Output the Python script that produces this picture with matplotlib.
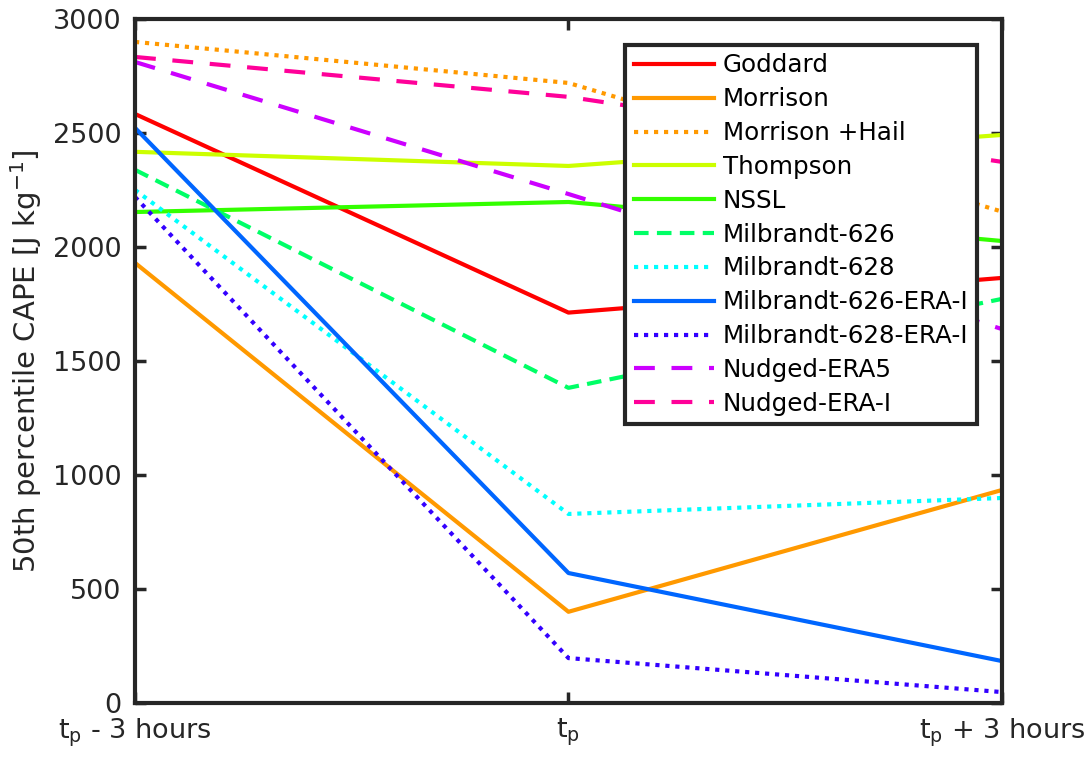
import matplotlib
matplotlib.use('Agg')
import matplotlib.pyplot as plt

times = [0, 1, 2]
time_labels = ['$\\mathregular{t_p}$ - 3 hours', '$\\mathregular{t_p}$', '$\\mathregular{t_p}$ + 3 hours']

schemes = ['Goddard', 'Morrison', 'Morrison +Hail', 'Thompson', 'NSSL',
           'Milbrandt-626', 'Milbrandt-628', 'Milbrandt-626-ERA-I',
           'Milbrandt-628-ERA-I', 'Nudged-ERA5', 'Nudged-ERA-I']

goddard = [2583, 1712, 1864]
morrison = [1930, 400, 934]
morrison_hail = [2899, 2719, 2155]
thompson = [2417, 2355, 2491]
nssl = [2153, 2197, 2026]
milb_626 = [2338, 1382, 1772]
milb_628 = [2250, 829, 899]
milb_626_erai = [2522, 570, 184]
milb_628_erai = [2219, 197, 48]
nudged_era5 = [2811, 2232, 1640]
nudged_erai = [2833, 2658, 2373]

series = [goddard, morrison, morrison_hail, thompson, nssl, milb_626, milb_628,
          milb_626_erai, milb_628_erai, nudged_era5, nudged_erai]
colors = ['#ff0000', '#ff9900', '#ff9900', '#ccff00', '#33ff00', '#00ff66',
          '#00ffff', '#0066ff', '#3300ff', '#cc00ff', '#ff0099']
dot = (0, (1, 1.4))
styles = ['-', '-', dot, '-', '-', (0, (3.5, 2)), dot, '-',
          dot, (0, (5, 4)), (0, (5, 4))]

fig = plt.figure(figsize=(10.89, 7.61), dpi=100)
ax = fig.add_axes([0.124, 0.0762, 0.796, 0.899])

for vals, name, c, ls in zip(series, schemes, colors, styles):
    ax.plot(times, vals, color=c, linestyle=ls, linewidth=3, label=name)

dark = '#262626'
ax.set_xlim(0, 2)
ax.set_ylim(0, 3000)
ax.set_xticks(times)
ax.set_xticklabels(time_labels)
ax.set_yticks(range(0, 3001, 500))
ax.set_ylabel('50th percentile CAPE [J kg$^{-1}$]', fontsize=21, color=dark, labelpad=6)

for s in ax.spines.values():
    s.set_linewidth(3)
    s.set_color(dark)
ax.tick_params(direction='in', length=8, width=2.5, color=dark, labelcolor=dark,
               labelsize=19.5, top=True, right=True, pad=10)

leg = ax.legend(loc='upper right', bbox_to_anchor=(0.971, 0.962), fontsize=17.7,
                handlelength=3.25, labelspacing=0.4, handletextpad=0.35,
                borderpad=0.35, borderaxespad=0, fancybox=False, framealpha=1)
leg.get_frame().set_edgecolor(dark)
leg.get_frame().set_linewidth(3)
for t in leg.get_texts():
    t.set_color('black')

fig.savefig('out.png', dpi=100)
